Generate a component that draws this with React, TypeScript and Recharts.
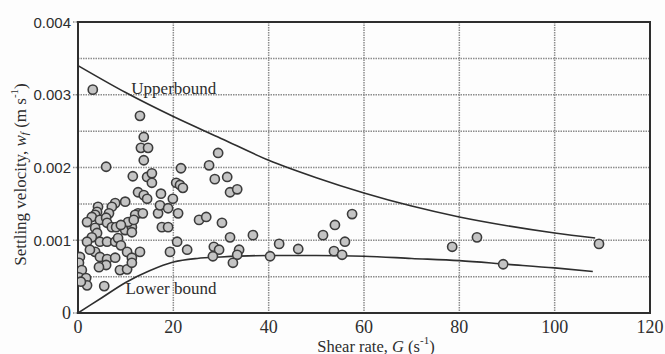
import { ComposedChart, Scatter, Line, XAxis, YAxis, CartesianGrid, ReferenceArea, ReferenceDot, Label } from 'recharts';

// measured floc settling velocities (x: shear rate G in 1/s, y: w_f in m/s)
const shearRate = [
  3.1, 13.0, 13.8, 13.2, 14.7, 13.8, 5.9, 21.6, 29.4, 27.5, 28.7, 31.3, 31.9, 33.4,
  25.4, 26.9, 30.2, 31.9, 36.7, 28.5, 29.6, 33.8, 33.4, 28.3, 32.5, 40.3, 42.2, 46.2,
  51.4, 53.9, 57.5, 56.0, 53.7, 55.4, 78.5, 83.7, 89.2, 109.3, 11.5, 14.5, 15.5, 15.5,
  20.6, 21.4, 22.0, 12.6, 13.8, 14.5, 17.4, 9.9, 7.8, 7.1, 4.2, 4.0, 6.5, 3.6,
  2.9, 1.9, 4.6, 5.9, 12.6, 12.0, 13.6, 16.8, 17.2, 18.9, 19.9, 21.0, 17.6, 18.9,
  6.1, 7.1, 8.0, 9.9, 11.3, 10.5, 11.7, 9.0, 11.3, 3.6, 4.0, 2.9, 1.9, 4.6,
  6.1, 7.8, 8.4, 9.0, 10.3, 11.3, 13.0, 3.6, 2.5, 4.6, 6.1, 5.9, 4.4, 7.8,
  8.8, 10.3, 11.3, 0.4, 0.2, 0.8, 0.2, 1.7, 1.9, 0.6, 5.5, 19.3, 22.9, 20.8,
];
const settlingVelocity = [
  0.00307, 0.00271, 0.00242, 0.00227, 0.00227, 0.0021, 0.00201, 0.00199, 0.0022, 0.00203, 0.00184, 0.00187, 0.00166, 0.0017,
  0.00128, 0.00132, 0.00124, 0.00104, 0.00107, 0.00091, 0.00087, 0.00087, 0.0008, 0.00078, 0.00069, 0.00078, 0.00095, 0.00088,
  0.00107, 0.00121, 0.00136, 0.00098, 0.00085, 0.0008, 0.00091, 0.00104, 0.00067, 0.00095, 0.00188, 0.00187, 0.00192, 0.00179,
  0.00179, 0.00176, 0.00172, 0.00166, 0.00162, 0.00157, 0.00164, 0.00153, 0.00151, 0.00146, 0.00146, 0.00139, 0.00137, 0.00135,
  0.00132, 0.00125, 0.00128, 0.00131, 0.00137, 0.00135, 0.00137, 0.00137, 0.00148, 0.00144, 0.00157, 0.00137, 0.00118, 0.00118,
  0.00124, 0.00118, 0.00118, 0.00114, 0.00118, 0.00125, 0.00128, 0.00121, 0.00111, 0.00117, 0.0011, 0.00104, 0.00098, 0.00098,
  0.00098, 0.00098, 0.00103, 0.00093, 0.00084, 0.00076, 0.00084, 0.00084, 0.00087, 0.00077, 0.00074, 0.00066, 0.00063, 0.00076,
  0.00059, 0.0006, 0.00069, 0.00077, 0.00069, 0.00059, 0.00049, 0.00048, 0.00038, 0.00043, 0.00037, 0.00084, 0.00087, 0.00098,
];

// bounding curves
const upperG = [0, 10, 20, 30, 40, 50, 60, 70, 80, 90, 100, 108.5];
const upperW = [0.0034, 0.00303, 0.0027, 0.0024, 0.0021, 0.00186, 0.00165, 0.00147, 0.00132, 0.0012, 0.0011, 0.00103];
const lowerG = [0, 5, 10, 15, 20, 25, 30, 40, 50, 60, 70, 80, 90, 100, 108];
const lowerW = [0, 0.00021, 0.00042, 0.00058, 0.0007, 0.00075, 0.00077, 0.00079, 0.00079, 0.00078, 0.00075, 0.00072, 0.00067, 0.00062, 0.00057];

const xTicks = [0, 20, 40, 60, 80, 100, 120];
const yTicks = [0, 0.001, 0.002, 0.003, 0.004];
const xGrid = [20, 40, 60, 80, 100];
const yGrid = [0.0005, 0.001, 0.0015, 0.002, 0.0025, 0.003, 0.0035];

const points = shearRate.map((g, i) => ({ x: g, y: settlingVelocity[i] }));
const upper = upperG.map((g, i) => ({ x: g, upper: upperW[i] }));
const lower = lowerG.map((g, i) => ({ x: g, lower: lowerW[i] }));

const serif = '"Liberation Serif", "Times New Roman", serif';
const sans = '"Liberation Sans", Arial, sans-serif';
const ink = '#2e2e2e';

const Dot = (props: any) => (
  <circle cx={props.cx} cy={props.cy} r={4.6} fill="#c4c4c4" stroke="#3c3c3c" strokeWidth={1.6} />
);

const XTick = ({ x, y, payload }: any) => (
  <text x={x} y={y + 12} textAnchor="middle" dominantBaseline="central" fontFamily={serif} fontSize={18} fill={ink}>
    {payload.value}
  </text>
);

const YTick = ({ x, y, payload }: any) => {
  const zero = payload.value === 0;
  return (
    <text
      x={x}
      y={y}
      textAnchor="end"
      dominantBaseline="central"
      fontFamily={zero ? serif : sans}
      fontSize={zero ? 18 : 15}
      fill={ink}
    >
      {zero ? '0' : payload.value.toFixed(3)}
    </text>
  );
};

const YTitle = ({ viewBox }: any) => {
  const cx = viewBox.x + 2;
  const cy = viewBox.y + viewBox.height / 2 + 7;
  return (
    <text
      x={cx}
      y={cy}
      transform={`rotate(-90 ${cx} ${cy})`}
      textAnchor="middle"
      dominantBaseline="central"
      fontFamily={serif}
      fontSize={17}
      fill={ink}
    >
      Settling velocity, <tspan fontStyle="italic">w</tspan>
      <tspan fontStyle="italic" fontSize={11} dy={4}>f</tspan>
      <tspan dy={-4}> (m s</tspan>
      <tspan fontSize={11} dy={-6}>-1</tspan>
      <tspan dy={6}>)</tspan>
    </text>
  );
};

const XTitle = ({ viewBox }: any) => {
  const cx = viewBox.x + viewBox.width / 2 + 12;
  const cy = viewBox.y + 33;
  return (
    <text x={cx} y={cy} textAnchor="middle" dominantBaseline="central" fontFamily={serif} fontSize={16.5} fill={ink}>
      Shear rate, <tspan fontStyle="italic">G</tspan> (s
      <tspan fontSize={11} dy={-6}>-1</tspan>
      <tspan dy={6}>)</tspan>
    </text>
  );
};

const App = () => {
  return (
    <div style={{ position: 'absolute', left: 0, top: 0, width: 665, height: 354, background: '#fdfdfd' }}>
      <ComposedChart width={665} height={354} margin={{ top: 22, right: 15, left: 18, bottom: 11 }}>
        <CartesianGrid
          horizontalValues={yGrid}
          verticalValues={xGrid}
          stroke="#8c8c8c"
          strokeWidth={1.5}
          strokeDasharray="1.5 1"
        />
        <XAxis
          type="number"
          dataKey="x"
          domain={[0, 120]}
          ticks={xTicks}
          tick={<XTick />}
          tickLine={false}
          tickSize={0}
          height={30}
          axisLine={{ stroke: ink, strokeWidth: 2 }}
          allowDataOverflow
        >
          <Label content={<XTitle />} />
        </XAxis>
        <YAxis
          type="number"
          domain={[0, 0.004]}
          ticks={yTicks}
          tick={<YTick />}
          tickSize={5}
          tickMargin={2}
          tickLine={{ stroke: '#8c8c8c', strokeWidth: 1.5, strokeDasharray: '1.5 1' }}
          width={60}
          axisLine={{ stroke: ink, strokeWidth: 2 }}
          allowDataOverflow
        >
          <Label content={<YTitle />} />
        </YAxis>
        <ReferenceArea x1={0} x2={120} y1={0} y2={0.004} fill="none" stroke={ink} strokeWidth={2} />
        <Line
          data={upper}
          dataKey="upper"
          type="monotone"
          stroke={ink}
          strokeWidth={1.6}
          dot={false}
          activeDot={false}
          isAnimationActive={false}
        />
        <Line
          data={lower}
          dataKey="lower"
          type="monotone"
          stroke={ink}
          strokeWidth={1.6}
          dot={false}
          activeDot={false}
          isAnimationActive={false}
        />
        <Scatter data={points} dataKey="y" shape={<Dot />} isAnimationActive={false} />
        <ReferenceDot
          x={20.1}
          y={0.00309}
          r={0}
          fill="none"
          stroke="none"
          label={{ value: 'Upperbound', position: 'center', fontFamily: serif, fontSize: 17, fill: ink }}
        />
        <ReferenceDot
          x={19.5}
          y={0.00034}
          r={0}
          fill="none"
          stroke="none"
          label={{ value: 'Lower bound', position: 'center', fontFamily: serif, fontSize: 17, fill: ink }}
        />
      </ComposedChart>
    </div>
  );
};

export default App;
